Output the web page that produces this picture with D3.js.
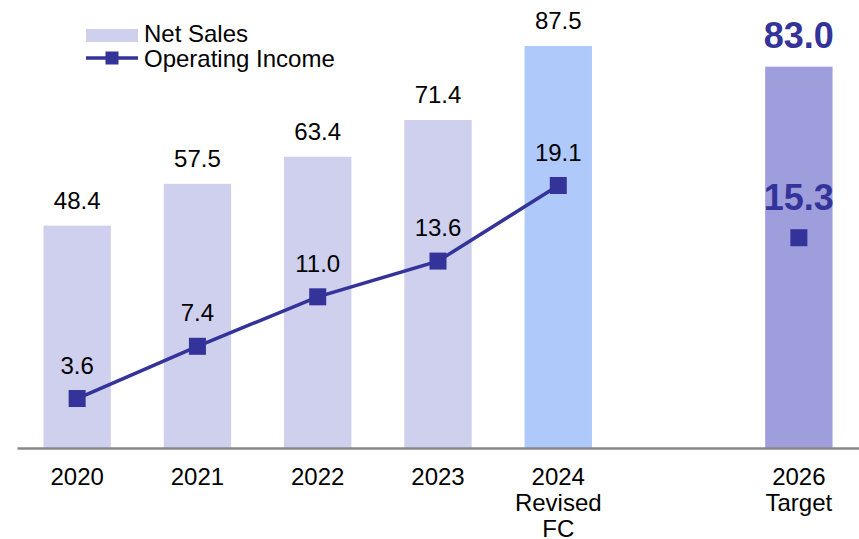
<!DOCTYPE html>
<html>
<head>
<meta charset="utf-8">
<script src="https://cdn.jsdelivr.net/npm/d3@7"></script>
<style>
  html, body { margin: 0; padding: 0; background: #fff; }
  svg { display: block; font-family: Arial, "Liberation Sans", sans-serif; }
</style>
</head>
<body>
<svg id="chart" width="859" height="539"></svg>
<script>
// Period keys (one empty slot separates the actuals from the target year)
const slots = ["2020", "2021", "2022", "2023", "2024", "gap", "2026"];
const categories = ["2020", "2021", "2022", "2023", "2024", "2026"];
const tickLabels = [["2020"], ["2021"], ["2022"], ["2023"], ["2024", "Revised", "FC"], ["2026", "Target"]];
const netSales = [48.4, 57.5, 63.4, 71.4, 87.5, 83.0];
const operatingIncome = [3.6, 7.4, 11.0, 13.6, 19.1, 15.3];
const barKinds = ["actual", "actual", "actual", "actual", "forecast", "target"];

const barColor = { actual: "#CFCFEE", forecast: "#AFC9FB", target: "#9E9EDC" };
const lineColor = "#333399";

const svg = d3.select("#chart");
const baseY = 448;

const x = d3.scaleBand().domain(slots).range([17, 859]).paddingInner(0.44).paddingOuter(0.22);
const yBar = d3.scaleLinear().domain([0, 87.5]).range([baseY, 46]);
const yLine = d3.scaleLinear().domain([0, 19.1]).range([baseY, 185.5]);

const cx = k => x(k) + x.bandwidth() / 2;

const data = categories.map((c, i) => ({
  cat: c, sales: netSales[i], income: operatingIncome[i], kind: barKinds[i], ticks: tickLabels[i]
}));

// Net sales bars
svg.append("g").selectAll("rect").data(data).join("rect")
  .attr("x", d => x(d.cat))
  .attr("y", d => yBar(d.sales))
  .attr("width", x.bandwidth())
  .attr("height", d => baseY - yBar(d.sales))
  .attr("fill", d => barColor[d.kind]);

// Category axis
const xAxis = d3.axisBottom(x).tickSize(0).tickFormat("");
const axisG = svg.append("g").attr("transform", `translate(0,${baseY})`).call(xAxis);
axisG.select(".domain").attr("stroke", "#888888").attr("stroke-width", 2.5);

// Multi-line tick labels
const tickG = svg.append("g").attr("font-size", 24).attr("fill", "#000").attr("text-anchor", "middle");
data.forEach(d => {
  const t = tickG.append("text").attr("x", cx(d.cat)).attr("y", 485);
  d.ticks.forEach((line, j) => {
    t.append("tspan").attr("x", cx(d.cat)).attr("dy", j === 0 ? 0 : 26).text(line);
  });
});

// Operating income line (actuals + forecast only)
const lineData = data.filter(d => d.kind !== "target");
svg.append("path").datum(lineData)
  .attr("fill", "none")
  .attr("stroke", lineColor)
  .attr("stroke-width", 3.5)
  .attr("d", d3.line().x(d => cx(d.cat)).y(d => yLine(d.income)));

// Markers
const ms = 17;
svg.append("g").selectAll("rect").data(data).join("rect")
  .attr("x", d => cx(d.cat) - ms / 2)
  .attr("y", d => yLine(d.income) - ms / 2)
  .attr("width", ms).attr("height", ms)
  .attr("fill", lineColor);

// Value labels
const fmt = d3.format(".1f");
const labels = svg.append("g").attr("text-anchor", "middle");
data.forEach(d => {
  const target = d.kind === "target";
  labels.append("text")
    .attr("x", cx(d.cat))
    .attr("y", yBar(d.sales) - (target ? 19 : 17))
    .attr("font-size", target ? 36 : 24)
    .attr("font-weight", target ? "bold" : "normal")
    .attr("fill", target ? lineColor : "#000")
    .text(fmt(d.sales));
  labels.append("text")
    .attr("x", cx(d.cat))
    .attr("y", yLine(d.income) - (target ? 28 : 25))
    .attr("font-size", target ? 36 : 24)
    .attr("font-weight", target ? "bold" : "normal")
    .attr("fill", target ? lineColor : "#000")
    .text(fmt(d.income));
});

// Legend
const lg = svg.append("g").attr("font-size", 24).attr("fill", "#000");
lg.append("rect").attr("x", 86).attr("y", 29).attr("width", 52).attr("height", 13).attr("fill", barColor.actual);
lg.append("text").attr("x", 144).attr("y", 42).text("Net Sales");
lg.append("line").attr("x1", 86).attr("x2", 138).attr("y1", 58).attr("y2", 58)
  .attr("stroke", lineColor).attr("stroke-width", 3.5);
lg.append("rect").attr("x", 112 - 6.5).attr("y", 58 - 6.5).attr("width", 13).attr("height", 13).attr("fill", lineColor);
lg.append("text").attr("x", 144).attr("y", 67).text("Operating Income");
</script>
</body>
</html>
